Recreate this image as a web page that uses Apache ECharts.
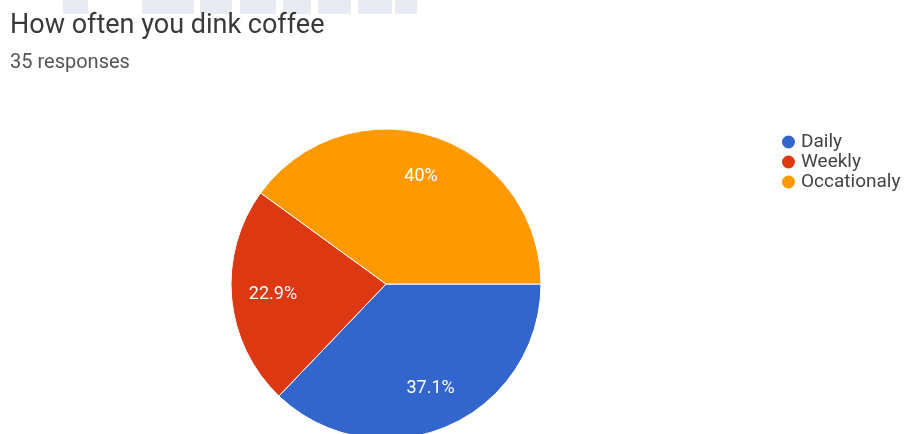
<!DOCTYPE html>
<html>
<head>
<meta charset="utf-8">
<script src="https://cdn.jsdelivr.net/npm/echarts@6/dist/echarts.min.js"></script>
<style>
  html, body { margin: 0; padding: 0; background: #fff; }
  #main { width: 911px; height: 434px; }
</style>
</head>
<body>
<div id="main"></div>
<script>
// data
var categories = ["Daily", "Weekly", "Occationaly"];
var counts = [13, 8, 14];
var colors = ["#3366cc", "#dc3912", "#ff9900"];

var pieData = categories.map(function (name, i) {
  return { name: name, value: counts[i], itemStyle: { color: colors[i] } };
});

// faint watermark blocks along the top edge
var wm = [[63, 25], [142, 52], [200, 32], [240, 36], [283, 28], [318, 33], [358, 34], [395, 22]];

var chart = echarts.init(document.getElementById("main"));
chart.setOption({
  backgroundColor: "#fff",
  title: {
    text: "How often you dink coffee",
    subtext: "35 responses",
    left: 10,
    top: 13,
    padding: 0,
    itemGap: 13,
    textStyle: { fontFamily: "Roboto", fontSize: 27, fontWeight: "normal", color: "#3a3a3a" },
    subtextStyle: { fontFamily: "Roboto", fontSize: 20, color: "#555" }
  },
  legend: {
    orient: "vertical",
    left: 780,
    top: 132,
    padding: 0,
    icon: "circle",
    itemWidth: 15,
    itemHeight: 15,
    itemGap: 0,
    data: categories,
    textStyle: { fontFamily: "Roboto", fontSize: 19, lineHeight: 20, color: "#444" }
  },
  graphic: wm.map(function (b) {
    return {
      type: "rect",
      shape: { x: b[0], y: 0, width: b[1], height: 14 },
      style: { fill: "#e8ebf2" },
      silent: true
    };
  }),
  series: [
    {
      type: "pie",
      center: [386, 284],
      radius: [0, 155],
      startAngle: 0,
      clockwise: true,
      silent: true,
      data: pieData,
      itemStyle: { borderColor: "#fff", borderWidth: 1 },
      label: { show: false },
      labelLine: { show: false }
    },
    {
      // transparent ring only to place labels further out than half radius
      type: "pie",
      center: [386, 284],
      radius: [66, 155],
      startAngle: 0,
      clockwise: true,
      silent: true,
      data: categories.map(function (name, i) {
        return { name: name, value: counts[i], itemStyle: { color: "rgba(0,0,0,0)" } };
      }),
      label: {
        show: true,
        position: "inside",
        color: "#fff",
        fontFamily: "Roboto",
        fontSize: 18,
        formatter: function (p) {
          return (Math.round(p.percent * 10) / 10) + "%";
        }
      },
      labelLine: { show: false }
    }
  ]
});
</script>
</body>
</html>
